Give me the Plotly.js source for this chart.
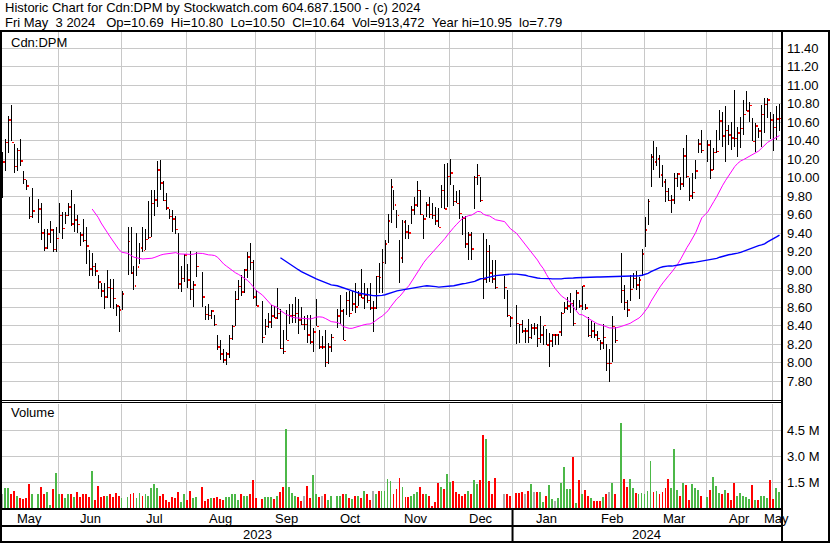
<!DOCTYPE html>
<html><head><meta charset="utf-8">
<script src="https://cdn.plot.ly/plotly-3.0.1.min.js"></script>
<style>
html,body{margin:0;padding:0;background:#fff;overflow:hidden}
#chart{width:830px;height:543px}
</style>
</head><body><div id="chart"></div>
<script>
// ---------- categories ----------
const startDate = '2023-05-05';
const endDate = '2024-05-03';
const holidays = ['2023-05-22','2023-07-03','2023-08-07','2023-09-04','2023-10-09',
  '2023-12-25','2023-12-26','2024-01-01','2024-02-19','2024-03-29'];
const monthNames = ['Jan','Feb','Mar','Apr','May','Jun','Jul','Aug','Sep','Oct','Nov','Dec'];

// ---------- series (one value per trading day) ----------
const high = [
 10.28,10.42,10.66,10.78,10.36,10.32,10.42,10.07,9.97,9.79,9.89,9.77,9.72,9.44,9.44,9.53,9.44,9.47,
 9.72,9.63,9.63,9.72,9.87,9.71,9.59,9.41,9.55,9.47,9.22,9.18,9.08,8.95,8.86,8.86,9.00,8.90,8.90,8.63,8.61,8.77,
 9.46,9.47,9.04,9.40,9.29,9.46,9.44,9.75,9.86,9.86,10.18,10.19,9.96,9.83,9.66,9.65,9.58,9.40,9.04,9.17,
 9.06,9.21,8.88,9.19,8.98,8.61,8.63,8.57,8.51,8.30,8.24,8.15,8.11,8.30,8.41,8.77,8.89,8.95,9.01,9.20,9.29,9.11,
 8.78,8.66,8.47,8.53,8.62,8.61,8.81,8.58,8.35,8.57,8.63,8.63,8.71,8.69,8.60,8.50,8.51,8.51,8.37,8.69,
 8.35,8.29,8.35,8.21,8.31,8.58,8.73,8.58,8.76,8.77,8.77,8.86,8.77,9.01,8.86,8.81,8.86,8.67,8.93,9.08,9.23,
 9.32,9.61,9.98,9.87,9.65,9.32,9.54,9.54,9.49,9.69,9.79,9.96,9.86,9.59,9.73,9.79,9.72,9.68,9.67,9.92,10.15,10.16,
 10.20,9.92,9.85,9.87,9.58,9.58,9.41,9.41,10.02,10.15,10.01,9.40,9.34,9.27,9.11,9.11,8.94,8.78,8.50,
 8.62,8.42,8.46,8.37,8.47,8.42,8.43,8.42,8.50,8.40,8.36,8.32,8.31,8.31,8.31,8.55,8.65,8.71,8.75,8.68,8.78,8.68,
 8.83,8.63,8.49,8.45,8.43,8.34,8.24,8.42,8.20,8.15,8.50,8.38,9.18,8.84,8.68,8.95,8.97,8.99,8.92,9.23,
 9.57,9.77,10.25,10.40,10.33,10.24,10.14,9.98,9.89,9.81,10.05,10.05,10.01,10.32,10.46,10.00,10.05,10.19,10.42,10.51,
 10.41,10.41,10.32,10.51,10.73,10.71,10.77,10.57,10.60,10.95,10.55,10.65,10.84,10.94,10.82,10.64,10.59,10.53,10.78,10.86,10.86,10.71,
 10.69,10.77,10.80];
const low = [
 9.78,10.07,10.27,10.39,10.05,10.07,10.12,9.93,9.87,9.55,9.56,9.51,9.32,9.21,9.23,9.29,9.19,9.19,
 9.40,9.34,9.50,9.58,9.48,9.41,9.40,9.26,9.30,9.07,8.93,8.94,8.93,8.79,8.71,8.58,8.70,8.59,8.58,8.50,8.33,8.57,
 8.95,8.96,8.78,8.93,9.07,9.20,9.22,9.33,9.36,9.58,9.68,9.87,9.75,9.65,9.55,9.41,9.39,8.79,8.76,8.87,
 8.81,8.68,8.60,8.92,8.60,8.46,8.46,8.47,8.39,8.13,8.03,7.99,7.97,8.05,8.24,8.39,8.68,8.72,8.75,8.91,9.00,8.69,
 8.61,8.21,8.30,8.37,8.37,8.48,8.47,8.15,8.09,8.24,8.42,8.43,8.43,8.31,8.41,8.35,8.21,8.20,8.11,8.39,
 8.15,8.15,7.95,7.98,8.11,8.37,8.42,8.24,8.51,8.49,8.56,8.53,8.61,8.70,8.58,8.64,8.57,8.33,8.58,8.75,8.75,
 9.07,9.29,9.51,9.65,9.45,8.86,9.08,9.33,9.33,9.50,9.59,9.68,9.60,9.33,9.57,9.56,9.55,9.49,9.46,9.67,9.66,9.68,
 9.92,9.69,9.72,9.55,9.38,9.24,9.11,9.11,9.66,9.92,9.73,8.69,8.86,8.87,8.86,8.80,8.69,8.49,8.38,
 8.20,8.21,8.32,8.21,8.21,8.25,8.30,8.17,8.21,8.19,8.19,7.95,8.17,8.19,8.19,8.29,8.53,8.57,8.53,8.40,8.57,8.59,
 8.57,8.57,8.28,8.27,8.27,8.23,8.13,8.15,7.91,7.79,8.01,8.21,8.64,8.57,8.49,8.67,8.81,8.78,8.69,8.93,
 9.25,9.49,9.90,10.08,10.12,10.00,9.90,9.73,9.75,9.62,9.71,9.90,9.86,9.90,9.99,9.75,9.77,9.98,10.27,10.27,
 10.17,9.98,10.08,10.26,10.41,10.33,10.17,10.35,10.30,10.33,10.22,10.32,10.46,10.72,10.60,10.39,10.28,10.43,10.33,10.48,10.64,10.42,
 10.29,10.41,10.50];
const close = [
 10.17,10.38,10.62,10.38,10.12,10.29,10.18,9.98,9.91,9.58,9.64,9.66,9.40,9.24,9.39,9.43,9.22,9.34,
 9.59,9.45,9.59,9.68,9.50,9.54,9.49,9.38,9.32,9.26,9.01,9.04,8.99,8.87,8.77,8.71,8.81,8.80,8.69,8.61,8.57,8.74,
 9.31,8.97,8.83,9.03,9.24,9.21,9.33,9.35,9.72,9.76,10.08,9.94,9.75,9.67,9.58,9.55,9.44,8.85,8.91,9.16,
 8.89,8.79,8.84,9.04,8.71,8.52,8.51,8.56,8.41,8.17,8.09,8.03,8.09,8.26,8.39,8.68,8.82,8.76,9.00,9.14,9.08,8.71,
 8.61,8.27,8.39,8.44,8.50,8.48,8.53,8.15,8.12,8.24,8.50,8.51,8.53,8.46,8.41,8.41,8.30,8.22,8.33,8.39,
 8.17,8.17,8.00,8.17,8.27,8.50,8.56,8.24,8.67,8.53,8.63,8.60,8.73,8.70,8.73,8.67,8.59,8.59,8.93,8.92,9.08,
 9.28,9.53,9.90,9.70,9.59,9.13,9.52,9.41,9.40,9.65,9.70,9.86,9.60,9.55,9.70,9.60,9.59,9.53,9.46,9.86,9.66,10.01,
 10.05,9.74,9.72,9.61,9.56,9.28,9.38,9.23,10.00,10.02,9.75,8.90,9.20,8.97,8.90,8.81,8.81,8.51,8.48,
 8.42,8.41,8.34,8.34,8.27,8.37,8.37,8.26,8.30,8.40,8.19,8.23,8.30,8.30,8.33,8.53,8.59,8.61,8.64,8.42,8.75,8.61,
 8.83,8.59,8.29,8.34,8.30,8.26,8.21,8.27,7.99,7.99,8.39,8.24,8.78,8.65,8.57,8.79,8.91,8.84,8.89,9.17,
 9.43,9.74,10.22,10.17,10.20,10.03,9.95,9.85,9.75,9.76,9.99,10.04,9.93,10.23,10.01,9.80,9.84,10.07,10.36,10.29,
 10.35,10.08,10.27,10.28,10.61,10.45,10.51,10.46,10.43,10.42,10.48,10.53,10.68,10.72,10.78,10.39,10.56,10.50,10.68,10.79,10.84,10.62,
 10.54,10.63,10.64];
const volumeM = [
 0.80,1.17,1.17,0.83,1.00,0.67,0.56,0.50,0.56,1.39,0.78,0.83,1.22,0.83,0.94,0.17,1.11,2.00,
 0.83,0.83,0.56,0.78,0.83,0.61,0.94,0.61,0.78,0.83,0.61,2.11,0.44,1.28,0.61,0.67,0.72,0.83,0.61,0.89,0.72,0.60,
 0.61,0.78,0.89,0.56,0.89,0.67,0.78,0.72,1.17,1.39,1.17,0.72,0.78,0.44,0.33,0.61,0.56,0.94,0.33,0.78,
 0.44,1.00,0.56,0.61,1.22,0.39,0.50,0.56,0.56,0.61,0.50,0.44,0.61,0.61,0.78,0.78,0.44,0.78,0.72,0.72,0.78,1.61,
 0.56,0.50,0.61,0.61,0.61,0.52,0.72,0.94,1.22,4.57,1.22,0.89,0.67,0.61,0.39,0.67,1.28,0.57,1.89,0.83,
 0.61,0.67,0.78,0.44,0.67,0.67,0.67,0.78,0.83,0.56,0.50,0.67,0.67,0.56,1.00,0.78,0.44,1.00,0.83,1.00,1.00,
 0.96,1.69,1.57,0.78,1.11,1.72,1.19,0.63,0.63,0.72,0.83,0.94,1.19,0.83,0.78,0.67,0.13,0.33,1.44,1.22,1.07,1.94,
 1.52,1.57,0.94,0.78,0.72,0.83,1.00,0.78,1.61,1.39,1.61,4.24,3.96,1.57,0.78,1.72,0.78,0.78,0.69,
 0.89,0.89,0.94,0.83,1.00,1.39,0.94,0.94,0.94,0.33,0.67,1.33,0.50,0.39,0.56,1.44,2.39,1.11,1.11,2.94,0.28,1.61,
 0.83,1.06,0.67,0.56,0.39,0.39,0.39,0.61,0.83,0.94,1.44,0.78,4.89,1.67,1.22,1.67,1.17,0.89,0.78,0.89,
 0.83,1.00,2.72,0.94,1.00,0.83,0.94,1.17,1.67,1.17,3.39,1.06,0.67,1.44,1.33,0.44,1.39,1.17,1.06,0.67,
 0.61,1.06,1.78,1.28,0.89,0.78,1.06,0.89,0.44,1.44,0.72,0.89,0.72,0.61,0.50,1.33,0.44,0.44,0.67,0.67,0.56,1.61,
 0.50,1.17,0.913472];
const lastOpen = 10.69;
const maPeriods = [30, 90];

// ---------- tick labels ----------
const priceTicks = [7.8,8.0,8.2,8.4,8.6,8.8,9.0,9.2,9.4,9.6,9.8,10.0,10.2,10.4,10.6,10.8,11.0,11.2,11.4];
const volTicks = [1.5e6, 3.0e6, 4.5e6];
const volTickText = ['1.5 M','3.0 M','4.5 M'];
const titleText = 'Historic Chart for Cdn:DPM by Stockwatch.com 604.687.1500 - (c) 2024';
const symbolText = 'Cdn:DPM';
const volumeText = 'Volume';

// ---------- build weekday scale ----------
const iso = d => d.toISOString().slice(0,10);
const weekdays = [];
for (let d = new Date(startDate+'T00:00:00Z'); iso(d) <= endDate; d.setUTCDate(d.getUTCDate()+1)) {
  const w = d.getUTCDay();
  if (w !== 0 && w !== 6) weekdays.push(iso(d));
}
const tradeDays = weekdays.filter(d => !holidays.includes(d));
const xIdx = tradeDays.map(d => weekdays.indexOf(d));
if (tradeDays.length !== close.length) console.log('count mismatch', tradeDays.length, close.length);

const months = [];
weekdays.forEach((d, i) => {
  const key = d.slice(0,7);
  const last = months[months.length-1];
  if (!last || last.key !== key) months.push({key, first: i, last: i});
  else last.last = i;
});
const gridX = months.slice(1).map(m => {
  const firstDay = m.key + '-01';
  let b = m.first; if (weekdays[m.first] !== firstDay) b = m.first - 1;
  return b - 1/3;
});
const xMin = -1/6, xMax = weekdays.length - 0.5;
const yearBoundary = gridX[months.findIndex(m => m.key.endsWith('-01')) - 1];

// ---------- scales / mark styles (one weekday slot = 3 px) ----------
const W = 830, H = 543;
const pTop = 32, pBot = 400, vTop = 404, vBot = 508;
const pScale = 92.5;            // px per price unit
const yRange = [7.8 - (pBot - 381)/pScale, 7.8 + (381 - pTop)/pScale];
const vScale = 17.33;           // px per million shares
const vRange = [0, (vBot - vTop)/vScale * 1e6];
const slotPx = 3;
const closeTickH = 1.6 / pScale;
const hlWidth = 1/slotPx, hlOffset = -0.5/slotPx;
const ctWidth = 1.9/slotPx, ctOffset = 0.55/slotPx;
const vbWidth = 1.9/slotPx, vbOffset = -1.45/slotPx;

// ---------- derived series ----------
const range = low.map((l, k) => high[k] - l);
const closeBase = close.map(c => c - closeTickH/2);
const volume = volumeM.map(v => v * 1e6);
const volColors = close.map((c, k) => {
  if (k === 0) return '#aaaaaa';
  const p = close[k-1];
  return c > p + 1e-9 ? '#4cb848' : (c < p - 1e-9 ? '#ff0000' : '#aaaaaa');
});
function sma(n) {
  const xs = [], ys = [];
  for (let k = n-1; k < close.length; k++) {
    let s = 0; for (let j = k-n+1; j <= k; j++) s += close[j];
    xs.push(xIdx[k]); ys.push(s/n);
  }
  return {xs, ys};
}
const maShort = sma(maPeriods[0]), maLong = sma(maPeriods[1]);

// ---------- text ----------
const px = p => p / W, py = p => 1 - p / H;
const FONT = 'Liberation Sans, Arial, sans-serif';
const n = close.length - 1;
const lastDate = new Date(tradeDays[n]+'T00:00:00Z');
const dayNames = ['Sun','Mon','Tue','Wed','Thu','Fri','Sat'];
const sp2 = '\u00a0\u00a0', sp3 = '\u00a0\u00a0\u00a0';
const fmtVol = Math.round(volume[n]).toLocaleString('en-US');
const infoText = dayNames[lastDate.getUTCDay()] + ' ' + monthNames[lastDate.getUTCMonth()] + sp2 +
  lastDate.getUTCDate() + ' ' + lastDate.getUTCFullYear() + sp3 +
  'Op=' + lastOpen.toFixed(2) + sp2 + 'Hi=' + high[n].toFixed(2) + sp2 +
  'Lo=' + low[n].toFixed(2) + sp2 + 'Cl=' + close[n].toFixed(2) + sp2 +
  'Vol=' + fmtVol + sp2 + 'Year hi=' + Math.max(...high).toFixed(2) + sp2 +
  'lo=' + Math.min(...low).toFixed(2);

const traces = [
  {type:'scatter', mode:'lines', x:maShort.xs, y:maShort.ys, xaxis:'x', yaxis:'y',
   line:{color:'#ff00ff', width:1}, hoverinfo:'skip'},
  {type:'scatter', mode:'lines', x:maLong.xs, y:maLong.ys, xaxis:'x', yaxis:'y',
   line:{color:'#0000ff', width:1.4}, hoverinfo:'skip'},
  {type:'bar', x:xIdx, y:range, base:low, xaxis:'x', yaxis:'y', width:hlWidth, offset:hlOffset,
   marker:{color:'#000000', line:{width:0}}, hoverinfo:'skip'},
  {type:'bar', x:xIdx, y:close.map(() => closeTickH), base:closeBase, xaxis:'x', yaxis:'y',
   width:ctWidth, offset:ctOffset, marker:{color:'#ff0000', line:{width:0}}, hoverinfo:'skip'},
  {type:'bar', x:xIdx, y:volume, xaxis:'x2', yaxis:'y2', width:vbWidth, offset:vbOffset,
   marker:{color:volColors, line:{width:0}}, hoverinfo:'skip'}
];

const gridColor = '#c8c8c8';
const xCommon = {range:[xMin, xMax], domain:[px(2), px(781)], tickmode:'array', tickvals:gridX,
  showticklabels:false, ticks:'', showgrid:true, gridcolor:gridColor, gridwidth:1,
  zeroline:false, showline:false, fixedrange:true};

const shapes = [];
const rect = (x0,y0,x1,y1) => shapes.push({type:'rect', xref:'paper', yref:'paper',
  x0:px(x0), x1:px(x1), y0:py(y1), y1:py(y0), fillcolor:'#000000', line:{width:0}, layer:'above'});
rect(0,30,830,32);
rect(0,30,2,543);
rect(781,30,783,543);
rect(828,30,830,543);
rect(0,541,830,543);
rect(0,400,782,401);
rect(0,402,782,403);
rect(0,508,782,510);
rect(0,525,782,527);
shapes.push({type:'line', xref:'x', yref:'paper', x0:yearBoundary, x1:yearBoundary,
  y0:py(541), y1:py(509), line:{color:'#000000', width:2}, layer:'above'});

const annotations = [];
const txt = (text, x, y, opts={}) => annotations.push(Object.assign({text, x, y,
  xref:'paper', yref:'paper', xanchor:'left', yanchor:'middle', showarrow:false,
  font:{family:FONT, size:13, color:'#000000'}}, opts));
txt(titleText, px(3), py(8));
txt(infoText, px(3), py(22));
txt(symbolText, px(9), py(42));
txt(volumeText, px(9), py(413));
months.forEach(m => {
  const mi = parseInt(m.key.slice(5,7),10) - 1;
  txt(monthNames[mi], (m.first + m.last)/2, py(518.5), {xref:'x', xanchor:'center'});
});
const years = [...new Set(months.map(m => m.key.slice(0,4)))];
years.forEach((y, k) => {
  const a = k === 0 ? xMin : yearBoundary;
  const b = k === years.length-1 ? xMax : yearBoundary;
  txt(y, (a+b)/2, py(534.5), {xref:'x', xanchor:'center'});
});

const layout = {
  width: W, height: H, margin:{l:0,r:0,t:0,b:0,pad:0},
  paper_bgcolor:'#ffffff', plot_bgcolor:'#ffffff', showlegend:false, hovermode:false,
  font:{family:FONT, size:13, color:'#000000'},
  barmode:'overlay', bargap:0,
  xaxis: Object.assign({anchor:'y'}, xCommon),
  xaxis2: Object.assign({anchor:'y2', matches:'x'}, xCommon),
  yaxis: {domain:[py(pBot), py(pTop)], range:yRange, side:'right', anchor:'x',
    tickmode:'array', tickvals:priceTicks, ticktext:priceTicks.map(v => v.toFixed(2)),
    ticks:'', ticklabelstandoff:5, showgrid:true, gridcolor:gridColor, gridwidth:1,
    zeroline:false, showline:false, fixedrange:true, tickfont:{family:FONT, size:13, color:'#000000'}},
  yaxis2: {domain:[py(vBot), py(vTop)], range:vRange, side:'right', anchor:'x2',
    tickmode:'array', tickvals:volTicks, ticktext:volTickText,
    ticks:'', ticklabelstandoff:5, showgrid:true, gridcolor:gridColor, gridwidth:1,
    zeroline:false, showline:false, fixedrange:true, tickfont:{family:FONT, size:13, color:'#000000'}},
  shapes, annotations
};

Plotly.newPlot('chart', traces, layout, {staticPlot:true, displayModeBar:false});
</script>
</body></html>
